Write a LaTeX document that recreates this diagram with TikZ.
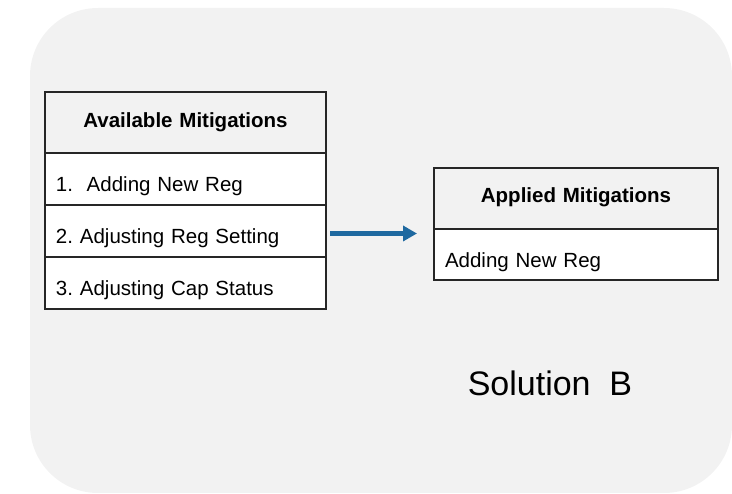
\documentclass[tikz,border=0pt]{standalone}
\usepackage{fontspec}
\setmainfont{Liberation Sans}
\usetikzlibrary{arrows.meta, positioning}
\definecolor{panelgray}{RGB}{242,242,242}
\definecolor{flowblue}{RGB}{31,105,160}

\begin{document}
\begin{tikzpicture}[x=1pt,y=-1pt,
  cell/.style={draw=black!85,line width=1.1pt,fill=white,outer sep=0pt,inner xsep=11pt,inner ysep=0pt,
    text width=259pt,align=left,font=\fontsize{20.5}{24}\selectfont,text height=39pt,text depth=13pt},
  head/.style={cell,fill=panelgray,align=center,font=\fontsize{20.5}{24}\selectfont\bfseries,
    text height=36pt,text depth=25pt},
  flow/.style={flowblue,line width=4.2pt,-{Triangle[length=14pt,width=15pt]}}]
  \useasboundingbox (0,0) rectangle (732,494);
  \fill[panelgray,rounded corners=68pt](30,8) rectangle (732,493);
  % available mitigations
  \node[head,anchor=north west] (avail) at (45,92) {Available Mitigations};
  \node[cell,below=0pt of avail] (avail1) {1.\ \ Adding New Reg};
  \node[cell,below=0pt of avail1] (avail2) {2.\ Adjusting Reg Setting};
  \node[cell,below=0pt of avail2] (avail3) {3.\ Adjusting Cap Status};
  % applied mitigations
  \node[head,anchor=north west,text width=262pt,text height=35pt,text depth=26pt] (applied) at (434,168) {Applied Mitigations};
  \node[cell,below=0pt of applied,text width=262pt,text height=39pt,text depth=12pt] (applied1) {Adding New Reg};
  % arrow
  \coordinate (tip) at ([xshift=-17pt]avail2.east -| applied.west);
  \draw[flow] ([xshift=4pt,yshift=-2.5pt]avail2.east) -- ([yshift=-2.5pt]tip);
  % label
  \node[anchor=base,font=\fontsize{34}{40}\selectfont] (sol) at (550,396) {Solution\ \ B};
\end{tikzpicture}
\end{document}
